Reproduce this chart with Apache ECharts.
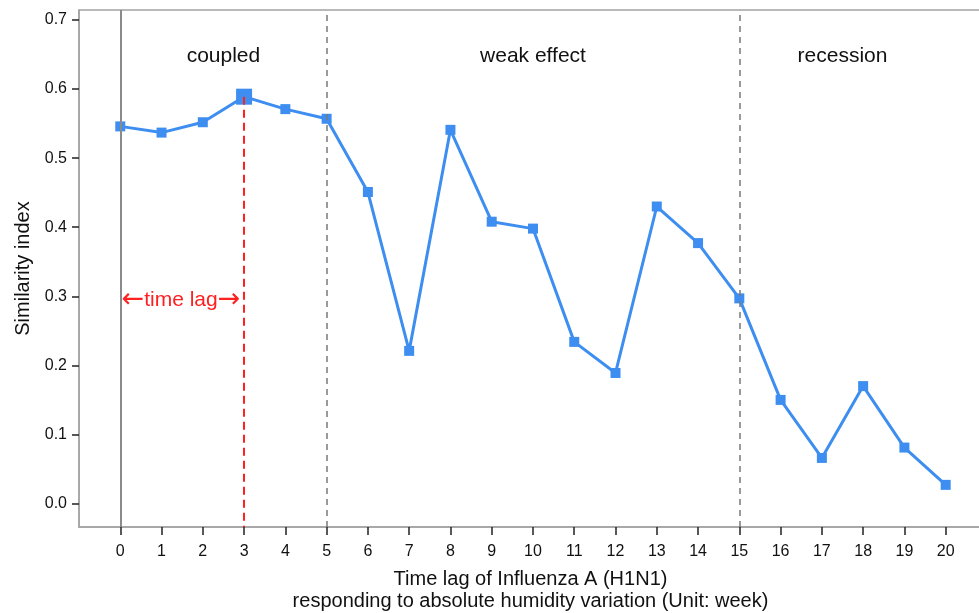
<!DOCTYPE html>
<html>
<head>
<meta charset="utf-8">
<script src="https://cdn.jsdelivr.net/npm/echarts@6/dist/echarts.min.js"></script>
<style>
html,body{margin:0;padding:0;background:#fff;}
#chart{width:979px;height:613px;}
</style>
</head>
<body>
<div id="chart"></div>
<script>
// ---- data ----
var lags = [0,1,2,3,4,5,6,7,8,9,10,11,12,13,14,15,16,17,18,19,20];
var similarity = [0.546,0.537,0.552,0.589,0.571,0.557,0.451,0.221,0.541,0.408,0.398,0.234,0.189,0.430,0.377,0.297,0.150,0.066,0.170,0.081,0.027];
var xTicks = [0,1,2,3,4,5,6,7,8,9,10,11,12,13,14,15,16,17,18,19,20];
var yTicks = [0.0,0.1,0.2,0.3,0.4,0.5,0.6,0.7];
var regionLabels = ['coupled','weak effect','recession'];
var regionBounds = [0,5,15];
var regionCenters = [2.5,10,17.5];
var timeLagText = 'time lag';
var xTitle = 'Time lag of Influenza A (H1N1)\nresponding to absolute humidity variation (Unit: week)';
var yTitle = 'Similarity index';

var peakIndex = similarity.indexOf(Math.max.apply(null, similarity));
var font = "'Liberation Sans', Arial, Helvetica, sans-serif";

var chart = echarts.init(document.getElementById('chart'), null, {renderer:'canvas'});
var lineData = similarity.map(function(v,i){
  return {value:[lags[i], v], symbolSize: i===peakIndex ? 16 : 10};
});

var option = {
  backgroundColor:'#fff',
  animation:false,
  textStyle:{fontFamily:font},
  grid:{left:79, top:10, bottom:86, right:-3, containLabel:false, outerBoundsMode:'none',
        show:true, borderColor:'#a3a3a3', borderWidth:1.5, backgroundColor:'transparent'},
  xAxis:{
    type:'value', min:-1, max:20.88,
    name:xTitle, nameLocation:'middle', nameGap:41,
    nameTextStyle:{fontSize:20, color:'#111', lineHeight:22, fontFamily:font},
    axisLine:{show:true, onZero:false, lineStyle:{color:'#a3a3a3', width:1.5}},
    axisTick:{show:true, inside:false, length:8, lineStyle:{color:'#222', width:1.5}, customValues:xTicks},
    axisLabel:{show:true, fontSize:16, color:'#111', margin:17, customValues:xTicks, fontFamily:font},
    splitLine:{show:false}
  },
  yAxis:{
    type:'value', min:-0.034, max:0.7145,
    name:yTitle, nameLocation:'middle', nameGap:46,
    nameTextStyle:{fontSize:20, color:'#111', fontFamily:font},
    axisLine:{show:true, onZero:false, lineStyle:{color:'#a3a3a3', width:1.5}},
    axisTick:{show:true, inside:false, length:7, lineStyle:{color:'#222', width:1.5}, customValues:yTicks},
    axisLabel:{show:true, fontSize:16, color:'#111', margin:12, customValues:yTicks, fontFamily:font,
      formatter:function(v){return v.toFixed(1);}},
    splitLine:{show:false}
  },
  series:[
    {
      name:'guides', type:'line', data:[], z:1, silent:true,
      markLine:{
        silent:true, symbol:['none','none'], animation:false,
        label:{show:false},
        data:[
          {xAxis:regionBounds[0], lineStyle:{color:'#8a8a8a', width:2, type:'solid'}},
          {xAxis:regionBounds[1], lineStyle:{color:'#7a7a7a', width:1.5, type:[6,5]}},
          {xAxis:regionBounds[2], lineStyle:{color:'#7a7a7a', width:1.5, type:[6,5]}},
          [{coord:[lags[peakIndex], similarity[peakIndex]], lineStyle:{color:'#ff2020', width:2, type:[8,5]}},
           {coord:[lags[peakIndex], -0.034]}]
        ]
      },
      markPoint:{
        silent:true, symbol:'circle', symbolSize:0, animation:false,
        label:{show:true, position:'inside', fontSize:21, color:'#111', fontFamily:font, formatter:'{b}'},
        data:regionCenters.map(function(c,i){return {name:regionLabels[i], coord:[c,0.648]};}).concat([
          {name:timeLagText, coord:[(regionBounds[0]+lags[peakIndex])/2 - 0.03, 0.294],
           label:{show:true, position:'inside', color:'#ff2020', fontFamily:font,
             formatter:'{a|\u2190}{t|{b}}{a|\u2192}',
             rich:{
               a:{fontSize:27, fontFamily:"'DejaVu Sans', sans-serif", color:'#ff2020'},
               t:{fontSize:21, fontFamily:font, color:'#ff2020'}
             }}}
        ])
      }
    },
    {
      name:'Similarity index', type:'line', z:3,
      data:lineData,
      symbol:'rect', symbolKeepAspect:true,
      itemStyle:{color:'#3d8ef0'},
      lineStyle:{color:'#3d8ef0', width:3},
      showSymbol:true
    }
  ]
};
chart.setOption(option);
</script>
</body>
</html>
